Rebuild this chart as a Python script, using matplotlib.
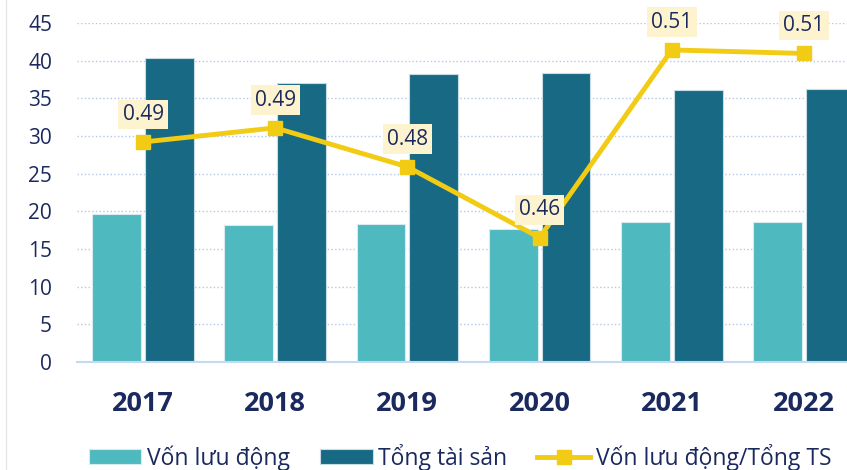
import matplotlib
matplotlib.use("Agg")
import matplotlib.pyplot as plt
from matplotlib.lines import Line2D
import numpy as np

# Dữ liệu
years = ["2017", "2018", "2019", "2020", "2021", "2022"]
von_luu_dong = [19.7, 18.2, 18.3, 17.7, 18.6, 18.6]
tong_tai_san = [40.3, 37.0, 38.2, 38.4, 36.1, 36.3]
ty_le = [0.488, 0.492, 0.481, 0.461, 0.514, 0.513]
y_ticks = [0, 5, 10, 15, 20, 25, 30, 35, 40, 45]

c_light = "#4EB9BE"
c_dark = "#186A84"
c_line = "#F2CB14"
c_text = "#1B2A5E"

plt.rcParams["font.family"] = ["Open Sans", "DejaVu Sans"]

fig = plt.figure(figsize=(8.47, 4.70), dpi=100)
ax = fig.add_axes([77 / 847, 108 / 470, 793 / 847, 339 / 470])

x = np.arange(len(years))
b1 = ax.bar(x - 0.2, von_luu_dong, width=0.37, color=c_light, edgecolor="#D8ECF0",
            linewidth=0.8, label="Vốn lưu động", zorder=2)
b2 = ax.bar(x + 0.2, tong_tai_san, width=0.37, color=c_dark, edgecolor="#C8DCE6",
            linewidth=0.8, label="Tổng tài sản", zorder=2)

ax.set_xlim(-0.5, 5.5)
ax.set_ylim(0, 45)
ax.set_yticks(y_ticks)
ax.set_xticks(x)
ax.set_xticklabels(years, fontsize=19.5, fontweight="bold", color=c_text)
ax.tick_params(axis="y", length=0, pad=18, labelsize=15, labelcolor=c_text)
ax.tick_params(axis="x", length=0, pad=21)
ax.yaxis.grid(True, linestyle=":", color="#B4C7E7", linewidth=1.0, zorder=0)
ax.set_axisbelow(True)
for s in ["top", "right", "left"]:
    ax.spines[s].set_visible(False)
ax.spines["bottom"].set_color("#C5D9F1")
ax.spines["bottom"].set_linewidth(1.5)

# trục phụ cho tỷ lệ
ax2 = ax.twinx()
ax2.set_ylim(0.4259, 0.5216)
ln, = ax2.plot(x, ty_le, color=c_line, linewidth=3.5, marker="s", markersize=9.5,
               label="Vốn lưu động/Tổng TS", zorder=3)
for xi, v in zip(x, ty_le):
    ax2.annotate("%.2f" % v, (xi, v), xytext=(0, 20), textcoords="offset points",
                 ha="center", va="center", fontsize=15, color=c_text,
                 bbox=dict(boxstyle="square,pad=0.2", facecolor="#FDF3CF", edgecolor="none"))
ax2.set_yticks([])
for s in ax2.spines.values():
    s.set_visible(False)

fig.legend(handles=[b1, b2, ln], loc="center", bbox_to_anchor=(0.543, 0.027), ncol=3,
           frameon=False, fontsize=16.5, labelcolor=c_text, handlelength=2.3,
           handleheight=0.6, handletextpad=0.25, columnspacing=1.3)

fig.add_artist(Line2D([6 / 847, 6 / 847], [0, 1], transform=fig.transFigure,
                      color="#E6E6E6", linewidth=1))

fig.savefig("out.png", dpi=100)
